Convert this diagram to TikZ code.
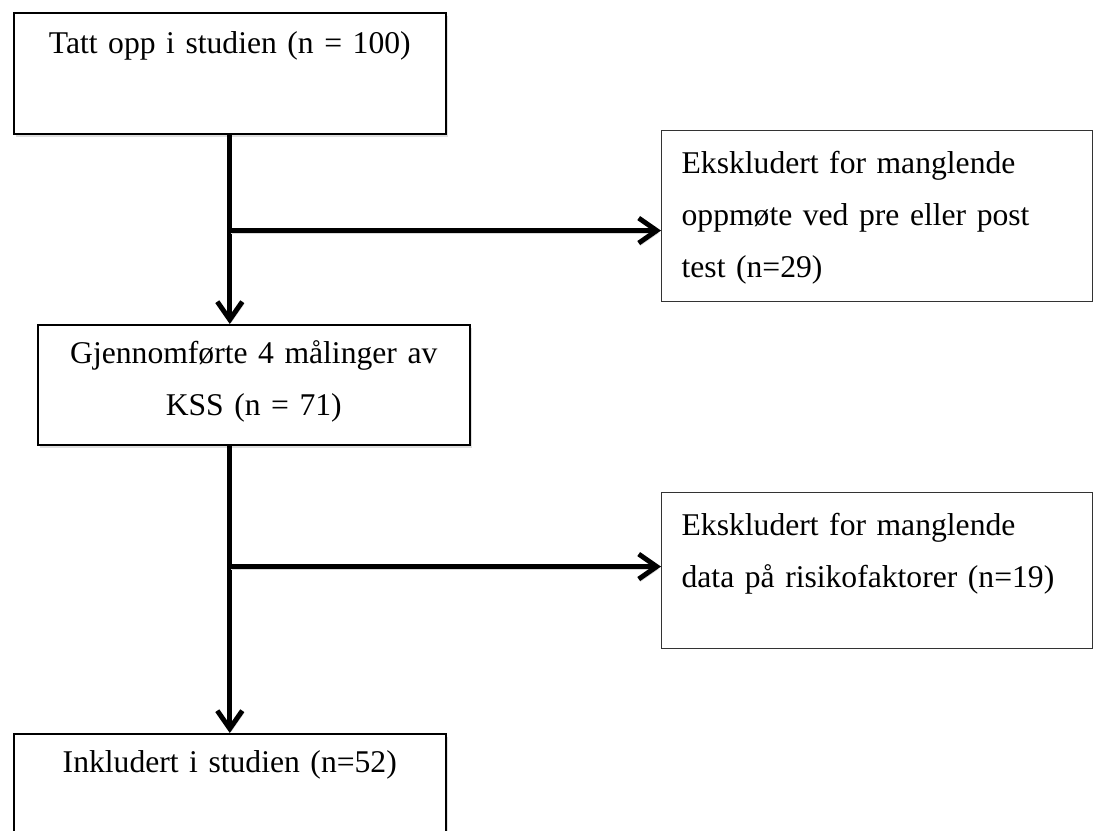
\documentclass[tikz,border=0pt]{standalone}
\usepackage{fontspec}
\setmainfont{Liberation Serif}
\usetikzlibrary{arrows.meta,shadows}

\begin{document}
\begin{tikzpicture}[font=\fontsize{18}{29.6}\selectfont,
    ramme/.style={fill=white,inner xsep=0.4cm,inner ysep=0pt,anchor=north west},
    boks/.style={ramme,draw=black,line width=0.9pt,text width=7.84cm,align=center,
        drop shadow={opacity=0.25,shadow xshift=0.5mm,shadow yshift=-0.6mm}},
    utelatt/.style={ramme,draw=black!80,line width=0.7pt,text width=7.82cm,align=left},
    pil/.style={line width=2.8pt,-{Straight Barb[length=3.6mm,width=5mm]},
        preaction={draw=black!15,transform canvas={shift={(0.3mm,-0.5mm)}}}}]
    \useasboundingbox (0,0) rectangle (21.92,16.6);
    \clip (0,0) rectangle (21.92,16.6);
    % boksene
    \node[boks,text height=0.82cm,text depth=1.60cm] (tatt) at (0.26,16.36) {Tatt opp i studien (n = 100)};
    \node[utelatt,text height=0.86cm,text depth=2.56cm] (eks1) at (13.22,14.0)
        {Ekskludert for manglende\\oppmøte ved pre eller post\\test (n=29)};
    \node[boks,text height=0.78cm,text depth=1.62cm] (kss) at (0.74,10.12) {Gjennomførte 4 målinger av\\KSS (n = 71)};
    \node[utelatt,text height=0.86cm,text depth=2.26cm] (eks2) at (13.22,6.76)
        {Ekskludert for manglende\\data på risikofaktorer (n=19)};
    \node[boks,text height=0.78cm,text depth=2.6cm] (inkl) at (0.26,1.94) {Inkludert i studien (n=52)};
    % pilene
    \path (tatt.south) ++(0,-1.92) coordinate (gren1);
    \path (tatt.south |- kss.south) ++(0,-2.42) coordinate (gren2);
    \draw[pil] (tatt.south) -- (tatt.south |- kss.north);
    \draw[pil] (tatt.south |- kss.south) -- (inkl.north);
    \draw[pil] (gren1) -- (gren1 -| eks1.west);
    \draw[pil] (gren2) -- (gren2 -| eks2.west);
\end{tikzpicture}
\end{document}
